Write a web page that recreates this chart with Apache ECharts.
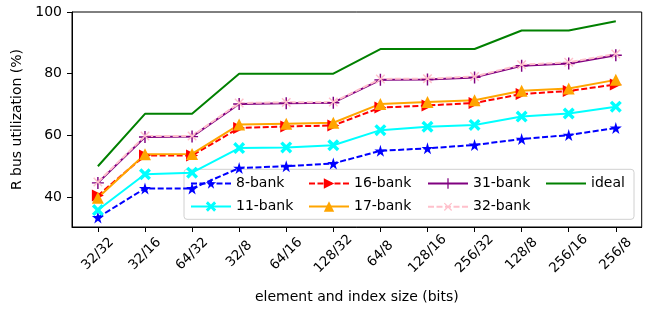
<!DOCTYPE html>
<html>
<head>
<meta charset="utf-8">
<script src="https://cdn.jsdelivr.net/npm/echarts@6/dist/echarts.min.js"></script>
<style>
  html, body { margin: 0; padding: 0; background: #fff; }
  #chart { width: 647px; height: 309px; }
</style>
</head>
<body>
<div id="chart"></div>
<script>
const categories = ['32/32', '32/16', '64/32', '32/8', '64/16', '128/32',
  '64/8', '128/16', '256/32', '128/8', '256/16', '256/8'];

const bank8 = [33.4, 42.8, 42.8, 49.4, 50.0, 50.9, 55.0, 55.8, 56.9, 58.8, 60.1, 62.4];
const bank11 = [35.8, 47.4, 47.9, 55.9, 56.1, 56.8, 61.7, 62.8, 63.4, 66.1, 67.1, 69.3];
const bank16 = [40.5, 53.5, 53.5, 62.4, 62.9, 63.2, 69.0, 69.7, 70.5, 73.4, 74.4, 76.5];
const bank17 = [39.8, 53.9, 54.0, 63.5, 63.8, 64.1, 70.2, 70.8, 71.4, 74.5, 75.2, 78.0];
const bank31 = [44.6, 59.5, 59.6, 70.2, 70.4, 70.6, 78.0, 78.1, 78.8, 82.6, 83.3, 86.0];
const bank32 = [44.9, 59.8, 59.8, 70.5, 70.7, 70.8, 78.3, 78.4, 79.1, 82.9, 83.7, 86.4];
const ideal = [50, 67, 67, 80, 80, 80, 88, 88, 88, 94, 94, 97];

const yTicks = [40, 60, 80, 100];
const xTicks = categories.map((c, i) => i);

const font = 'DejaVu Sans';
const STAR = 'path://M50,0 L61,35 L98,35 L68,57 L79,91 L50,70 L21,91 L32,57 L2,35 L39,35 Z';
const FATX = 'path://M0,20 L20,0 L50,30 L80,0 L100,20 L70,50 L100,80 L80,100 L50,70 L20,100 L0,80 L30,50 Z';
const RTRI = 'path://M0,0 L100,50 L0,100 Z';
const PLUS = 'path://M44,0 H56 V44 H100 V56 H56 V100 H44 V56 H0 V44 H44 Z';

function pts(vals) {
  return vals.map((v, i) => [i, v]);
}

function mk(name, vals, color, dashed, symbol, size, rotate) {
  return {
    name: name,
    type: 'line',
    data: pts(vals),
    symbol: symbol || 'none',
    symbolSize: size || 0,
    symbolRotate: rotate || 0,
    showSymbol: !!symbol,
    itemStyle: { color: color },
    lineStyle: { color: color, width: 2, type: dashed ? [6, 2.5] : 'solid' },
    animation: false
  };
}

const chart = echarts.init(document.getElementById('chart'));

function legendCol(left, names) {
  return {
    orient: 'vertical',
    left: left,
    top: 176.5,
    padding: 0,
    itemWidth: 40,
    itemHeight: 13,
    itemGap: 9,
    z: 5,
    lineStyle: { width: 2 },
    textStyle: { fontFamily: font, fontSize: 14, color: '#000' },
    data: names
  };
}

var option = {
  animation: false,
  grid: {
    left: 72, top: 12, width: 569.7, height: 216,
    show: true, borderColor: '#000', borderWidth: 1, backgroundColor: 'transparent'
  },
  xAxis: {
    type: 'value',
    min: -0.55,
    max: 11.55,
    name: 'element and index size (bits)',
    nameLocation: 'middle',
    nameGap: 63,
    nameTextStyle: { fontFamily: font, fontSize: 14, color: '#000' },
    axisLine: { onZero: false, lineStyle: { color: '#000', width: 1 } },
    axisTick: { customValues: xTicks, length: 5, lineStyle: { color: '#000' } },
    axisLabel: {
      customValues: xTicks,
      formatter: function (v) { return categories[v]; },
      rotate: 45,
      align: 'center',
      verticalAlign: 'middle',
      margin: 27,
      fontFamily: font, fontSize: 13.5, color: '#000'
    },
    splitLine: { show: false }
  },
  yAxis: {
    type: 'value',
    min: 30.3,
    max: 100,
    name: 'R bus utilization (%)',
    nameLocation: 'middle',
    nameGap: 47,
    nameTextStyle: { fontFamily: font, fontSize: 14, color: '#000' },
    axisLine: { show: true, onZero: false, lineStyle: { color: '#000', width: 1 } },
    axisTick: { show: true, customValues: yTicks, length: 5, lineStyle: { color: '#000' } },
    axisLabel: { customValues: yTicks, margin: 10, fontFamily: font, fontSize: 14, color: '#000' },
    splitLine: { show: false }
  },
  legend: [
    legendCol(190, ['8-bank', '11-bank']),
    legendCol(308, ['16-bank', '17-bank']),
    legendCol(427, ['31-bank', '32-bank']),
    legendCol(545, [{ name: 'ideal', itemStyle: { opacity: 0 } }])
  ],
  graphic: [{
    type: 'rect',
    z: 3,
    shape: { x: 184, y: 169.3, width: 450, height: 50, r: 3 },
    style: { fill: 'rgba(255,255,255,0.8)', stroke: '#d0d0d0', lineWidth: 1 }
  }],
  series: [
    mk('8-bank', bank8, '#0000ff', true, STAR, 12),
    mk('11-bank', bank11, '#00ffff', false, FATX, 12),
    mk('16-bank', bank16, '#ff0000', true, RTRI, 12),
    mk('17-bank', bank17, '#ffa500', false, 'triangle', 12),
    mk('31-bank', bank31, '#800080', false, PLUS, 12),
    mk('32-bank', bank32, '#ffc0cb', true, PLUS, 12, 45),
    mk('ideal', ideal, '#008000', false, null, 0)
  ]
};

chart.setOption(option);
</script>
</body>
</html>
